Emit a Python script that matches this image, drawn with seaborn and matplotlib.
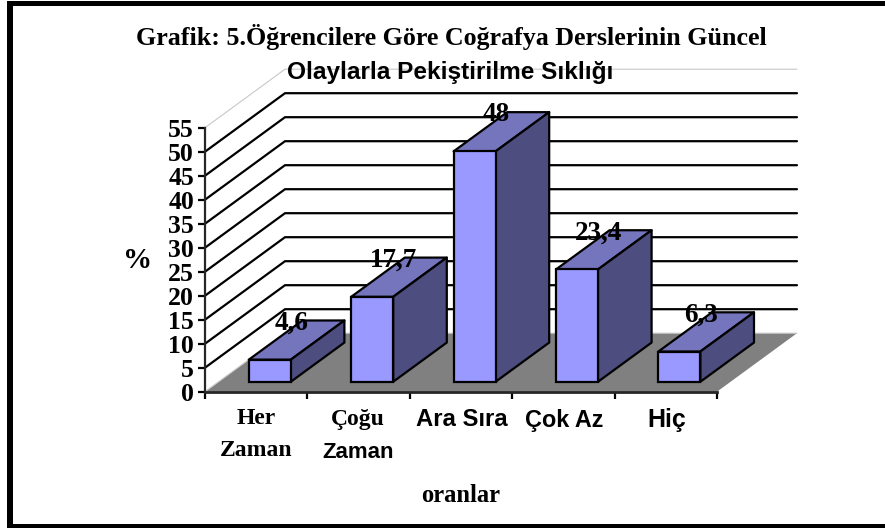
import numpy as np
import pandas as pd
import matplotlib
matplotlib.use("Agg")
import matplotlib.pyplot as plt
from matplotlib.patches import Polygon, Rectangle
import seaborn as sns

# data
categories = ["Her\nZaman", "Çoğu\nZaman", "Ara Sıra", "Çok Az", "Hiç"]
values = [4.6, 17.7, 48, 23.4, 6.3]
value_labels = ["4,6", "17,7", "48", "23,4", "6,3"]
y_ticks = [0, 5, 10, 15, 20, 25, 30, 35, 40, 45, 50, 55]

# styles
W, H = 885, 528
FRONT, TOP, SIDE, FLOOR = "#9999FF", "#7575BD", "#4D4D80", "#808080"
serif = dict(family="Liberation Serif", fontweight="bold", color="black")
sans = dict(family="Liberation Sans", fontweight="bold", color="black")

# pixel geometry of the plot box
X0, X1, Y0, Y55 = 205, 717, 391.7, 127.7
DEPTH_X, DEPTH_Y = 80, 58.5
cat_w = (X1 - X0) / len(categories)
unit = (Y0 - Y55) / 55


def proj(x, v, d):
    # category position, value and depth (0 front, 1 back) to data coords
    return x + d * DEPTH_X / cat_w, v + d * DEPTH_Y / unit


df = pd.DataFrame({"cat": categories, "val": values})
sns.set_style("white")
fig = plt.figure(figsize=(W / 100, H / 100), dpi=100, facecolor="white")
ax = fig.add_axes([X0 / W, 1 - Y0 / H, (X1 - X0) / W, (Y0 - Y55) / H])

d0, d1 = 0.17, 0.84
base_x, base_y = proj(0, 0, d0)
sns.barplot(data=df, x="cat", y="val", color=FRONT, saturation=1, width=0.41,
            bottom=base_y, edgecolor="black", linewidth=1.6, ax=ax, zorder=5)
ax.set_xlim(-0.5, len(categories) - 0.5)
ax.set_ylim(0, 55)

left, right = -0.5, len(categories) - 0.5

# floor
ax.add_patch(Polygon([proj(left, 0, 0), proj(right, 0, 0), proj(right, 0, 1), proj(left, 0, 1)],
                     closed=True, facecolor=FLOOR, edgecolor="none", zorder=1, clip_on=False))

# grid on side wall and back wall
for t in y_ticks:
    pts = np.array([proj(left, t, 0), proj(left, t, 1), proj(right, t, 1)])
    if t == 0 or t == y_ticks[-1]:
        ax.plot(pts[:, 0], pts[:, 1], color="#c8c8c8", lw=0.8, clip_on=False, zorder=2)
    else:
        ax.plot(pts[:, 0], pts[:, 1], color="black", lw=1.6, clip_on=False, zorder=2)

# 3d faces of the bars
for patch, val, lab in zip(ax.patches[:len(values)], values, value_labels):
    patch.set_x(patch.get_x() + base_x)
    xa, xb = patch.get_x(), patch.get_x() + patch.get_width()
    bottom = patch.get_y()
    top = bottom + val
    dd = d1 - d0
    top_face = [(xa, top), (xb, top), proj(xb, top, dd), proj(xa, top, dd)]
    side_face = [(xb, bottom), (xb, top), proj(xb, top, dd), proj(xb, bottom, dd)]
    ax.add_patch(Polygon(top_face, closed=True, facecolor=TOP, edgecolor="black",
                         lw=1.6, zorder=4, clip_on=False, joinstyle="round"))
    ax.add_patch(Polygon(side_face, closed=True, facecolor=SIDE, edgecolor="black",
                         lw=1.6, zorder=4, clip_on=False, joinstyle="round"))
    # value label sits near the back of the top face
    lx, ly = proj((xa + xb) / 2, top, dd * 0.5)
    ax.text(lx - 0.05, ly + 3.5, lab, ha="center", va="center", fontsize=19.5, zorder=6,
            clip_on=False, **serif)

# axes
sns.despine(ax=ax, top=True, right=True)
ax.spines["left"].set_linewidth(1.6)
ax.spines["bottom"].set_linewidth(2)
ax.spines["left"].set_zorder(6)
ax.spines["bottom"].set_zorder(6)
ax.set_yticks(y_ticks)
ax.set_yticklabels([str(t) for t in y_ticks], fontsize=18.5, **serif)
ax.tick_params(axis="y", length=5, width=1.6, color="black", pad=3, left=True)
ax.set_xticks(np.arange(len(categories) + 1) - 0.5)
ax.set_xticklabels([])
ax.tick_params(axis="x", length=5, width=1.6, color="black", bottom=True)
ax.set_xlabel("")
ax.set_ylabel("")

# category labels, mixed fonts as in the original
fig.text(256 / W, 1 - 419 / H, categories[0].split("\n")[0], ha="center", va="center", fontsize=17, **serif)
fig.text(256 / W, 1 - 451 / H, categories[0].split("\n")[1], ha="center", va="center", fontsize=17, **serif)
fig.text(358 / W, 1 - 419 / H, categories[1].split("\n")[0], ha="center", va="center", fontsize=17, **serif)
fig.text(358 / W, 1 - 452 / H, categories[1].split("\n")[1], ha="center", va="center", fontsize=16, **sans)
fig.text(461.5 / W, 1 - 420 / H, categories[2], ha="center", va="center", fontsize=17.2, **sans)
fig.text(564 / W, 1 - 420 / H, categories[3], ha="center", va="center", fontsize=16.8, **sans)
fig.text(666.5 / W, 1 - 420 / H, categories[4], ha="center", va="center", fontsize=18, **sans)

# titles
fig.text(451 / W, 1 - 37 / H, "Grafik: 5.Öğrencilere Göre Coğrafya Derslerinin Güncel",
         ha="center", va="center", fontsize=18.7, **serif)
fig.text(450 / W, 1 - 73 / H, "Olaylarla Pekiştirilme Sıklığı",
         ha="center", va="center", fontsize=17.6, zorder=10, **sans)
fig.text(138 / W, 1 - 260 / H, "%", ha="center", va="center", fontsize=21, **serif)
fig.text(461 / W, 1 - 495 / H, "oranlar", ha="center", va="center", fontsize=17.7, **serif)

# black frame of the chart area: top, left and bottom bands
for x, y, w, h in [(7, 1, 878, 5), (7, 1, 6, 527), (7, 524, 878, 4)]:
    fig.add_artist(Rectangle((x / W, 1 - (y + h) / H), w / W, h / H, transform=fig.transFigure,
                             facecolor="black", edgecolor="none"))

fig.savefig("out.png", dpi=100)
